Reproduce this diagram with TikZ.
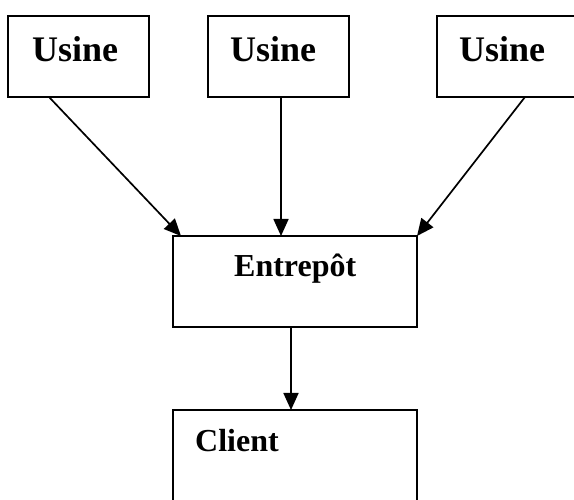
\documentclass[tikz,border=0pt]{standalone}
\usepackage{fontspec}
\setmainfont{Liberation Serif}
\usetikzlibrary{arrows.meta}
\begin{document}
\begin{tikzpicture}[x=1pt,y=-1pt,
  box/.style={draw,line width=1.8pt,rectangle,inner sep=0pt,outer sep=0pt,anchor=north west},
  bigtxt/.style={inner sep=0pt,anchor=base west,font=\fontsize{36}{40}\selectfont\bfseries},
  txt/.style={inner sep=0pt,anchor=base west,font=\fontsize{32}{36}\selectfont\bfseries},
  arr/.style={line width=1.7pt,-{Triangle[length=17pt,width=15pt]}}]
\clip (0,0) rectangle (574,500);
\fill[white] (0,0) rectangle (574,500);
% boxes
\node[box,minimum width=141pt,minimum height=81pt] (u1) at (8,16) {};
\node[box,minimum width=141pt,minimum height=81pt] (u2) at (208,16) {};
\node[box,minimum width=141pt,minimum height=81pt] (u3) at (437,16) {};
\node[box,minimum width=244pt,minimum height=91pt] (ent) at (173,236) {};
\node[box,minimum width=244pt,minimum height=110pt] (cli) at (173,410) {};
% labels
\node[bigtxt] (t1) at (32,62) {Usine};
\node[bigtxt] (t2) at (230,62) {Usine};
\node[bigtxt] (t3) at (459,62) {Usine};
\node[txt] (te) at (234,277) {Entrepôt};
\node[txt] (tc) at (195,451) {Client};
% connectors
\draw[arr] ([xshift=41pt]u1.south west) -- ([xshift=8pt]ent.north west);
\draw[arr] ([xshift=73pt]u2.south west) -- ([xshift=108pt]ent.north west);
\draw[arr] ([xshift=88pt]u3.south west) -- (ent.north east);
\draw[arr] ([xshift=118pt]ent.south west) -- ([xshift=118pt]cli.north west);
\end{tikzpicture}
\end{document}
